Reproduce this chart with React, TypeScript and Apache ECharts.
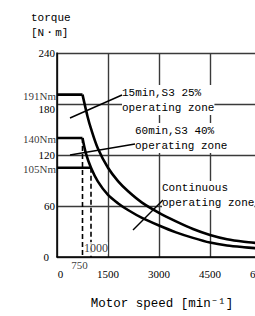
import React, { useEffect, useRef } from "react";
import * as echarts from "echarts";

// ---- data ----
const speedMin = 0;
const speedMax = 6000;
const speedStep = 1500;
const torqueMin = 0;
const torqueMax = 240;
const torqueStep = 60;

// rated torque plateaus (torque, corner speed, label)
const plateauTorque = [191, 140, 105];
const plateauSpeed = [750, 750, 1000];
const plateauLabels = ["191Nm", "140Nm", "105Nm"];

// 15min, S3 25% curve (after the corner)
const speed15 = [750, 900, 1000, 1200, 1500, 1800, 2100, 2500, 3000, 3500, 4000, 4500, 5000, 5500, 6000];
const torque15 = [191, 165, 151, 128, 105, 89, 77, 64, 52, 42, 33, 26, 21, 18, 16];

// 60min, S3 40% curve (after the corner)
const speed60 = [750, 850, 1000, 1200, 1500, 1800, 2100, 2500, 3000, 3500, 4000, 4500, 5000, 5500, 6000];
const torque60 = [140, 122, 105, 89, 73, 63, 55, 46, 37, 29, 22.5, 17, 13.5, 11.5, 10];

// dashed drop lines (speed, top torque, label)
const dropSpeed = [750, 1000];
const dropTorque = [140, 105];
const dropLabels = ["750", "1000"];

const MONO = '"Liberation Mono", "DejaVu Sans Mono", monospace';
const SERIF = '"Liberation Serif", "DejaVu Serif", serif';

export default function App() {
  const ref = useRef<HTMLDivElement>(null);
  useEffect(() => {
    if (!ref.current) return;
    const chart = echarts.init(ref.current, undefined, { renderer: "svg" });

    const black = "#000";
    const series: any[] = [];

    plateauTorque.forEach((t, i) => {
      series.push({
        type: "line",
        data: [
          [0, t],
          [plateauSpeed[i], t],
        ],
        symbol: "none",
        lineStyle: { color: black, width: 2.6 },
        z: 3,
      });
    });

    [
      [speed15, torque15],
      [speed60, torque60],
    ].forEach(([sp, tq]) => {
      series.push({
        type: "line",
        data: sp.map((s, i) => [s, tq[i]]),
        symbol: "none",
        smooth: 0.3,
        lineStyle: { color: black, width: 2.6 },
        z: 3,
      });
    });

    dropSpeed.forEach((s, i) => {
      series.push({
        type: "line",
        data: [
          [s, dropTorque[i]],
          [s, 0],
        ],
        symbol: "none",
        lineStyle: { color: black, width: 1.6, type: [5, 3] },
        z: 3,
      });
    });

    // plateau labels on the torque axis
    series.push({
      type: "scatter",
      symbolSize: 0,
      data: plateauTorque.map((t, i) => ({ value: [0, t], name: plateauLabels[i] })),
      label: {
        show: true,
        position: "left",
        distance: 1,
        offset: [0, 1],
        formatter: (p: any) => p.name,
        fontFamily: SERIF,
        fontSize: 11,
        color: black,
      },
      z: 5,
    });

    // 750 label below the axis
    series.push({
      type: "scatter",
      symbolSize: 0,
      data: [{ value: [dropSpeed[0], 0], name: dropLabels[0] }],
      label: {
        show: true,
        position: "inside",
        offset: [-3, 8],
        formatter: (p: any) => p.name,
        fontFamily: SERIF,
        fontSize: 11,
        color: black,
      },
      z: 5,
    });
    // 1000 label above the axis
    series.push({
      type: "scatter",
      symbolSize: 0,
      data: [{ value: [dropSpeed[1], 0], name: dropLabels[1] }],
      label: {
        show: true,
        position: "inside",
        offset: [5, -9],
        formatter: (p: any) => p.name,
        fontFamily: SERIF,
        fontSize: 12,
        color: black,
        backgroundColor: "#fff",
      },
      z: 5,
    });

    const annotFont = `11px ${MONO}`;
    const textBox = (x: number, y: number, text: string, lh: number) => ({
      type: "text",
      x,
      y,
      z: 20,
      style: {
        text,
        font: annotFont,
        fill: black,
        lineHeight: lh,
        backgroundColor: "#fff",
      },
    });
    const pointer = (x1: number, y1: number, x2: number, y2: number) => ({
      type: "line",
      z: 21,
      shape: { x1, y1, x2, y2 },
      style: { stroke: black, lineWidth: 1.4 },
    });

    chart.setOption({
      animation: false,
      backgroundColor: "#fff",
      grid: {
        left: 57,
        top: 53,
        width: 204,
        height: 204,
        containLabel: false,
        outerBoundsMode: "none",
      },
      xAxis: {
        type: "value",
        min: speedMin,
        max: speedMax,
        interval: speedStep,
        axisLine: { show: true, lineStyle: { color: black, width: 1.5 } },
        axisTick: { show: false },
        axisLabel: {
          margin: 11,
          fontFamily: SERIF,
          fontSize: 11,
          color: black,
          formatter: (v: number) => (v === 0 ? "{z|0}" : String(v)),
          rich: { z: { padding: [0, 0, 0, 7], fontFamily: SERIF, fontSize: 11, color: black } },
        },
        splitLine: { show: true, lineStyle: { color: "#3a3a3a", width: 1.4 } },
      },
      yAxis: {
        type: "value",
        min: torqueMin,
        max: torqueMax,
        interval: torqueStep,
        axisLine: { show: true, lineStyle: { color: black, width: 1.5 } },
        axisTick: { show: false },
        axisLabel: {
          margin: 2,
          fontFamily: SERIF,
          fontSize: 11,
          color: black,
          formatter: (v: number) => (v === 180 ? "{low|180}" : v === 0 ? "{zero|0}" : String(v)),
          rich: {
            low: { padding: [9, 0, 0, 0], fontFamily: SERIF, fontSize: 11, color: black },
            zero: { padding: [0, 6, 0, 0], fontFamily: SERIF, fontSize: 11, color: black },
          },
        },
        splitLine: { show: true, lineStyle: { color: "#3a3a3a", width: 1.4 } },
      },
      series,
      graphic: [
        {
          type: "text",
          x: 31,
          y: 10,
          z: 20,
          style: { text: "torque\n[N・m]", font: annotFont, fill: black, lineHeight: 15 },
        },
        {
          type: "text",
          x: 162,
          y: 304,
          z: 20,
          style: {
            text: "Motor speed [min⁻¹]",
            font: `12.5px ${MONO}`,
            fill: black,
            align: "center",
            verticalAlign: "middle",
          },
        },
        textBox(122, 85, "15min,S3 25%\noperating zone", 15),
        textBox(135, 123, "60min,S3 40%\noperating zone", 15),
        textBox(162, 181, "Continuous\noperating zone", 14.5),
        pointer(70, 118, 122, 95),
        pointer(70, 155, 135, 144),
        pointer(133, 230, 163, 200),
      ],
    });

    return () => chart.dispose();
  }, []);

  return (
    <div
      style={{
        position: "fixed",
        left: 0,
        top: 0,
        width: 255,
        height: 316,
        overflow: "hidden",
        background: "#fff",
      }}
    >
      <div ref={ref} style={{ width: 290, height: 316 }} />
    </div>
  );
}
